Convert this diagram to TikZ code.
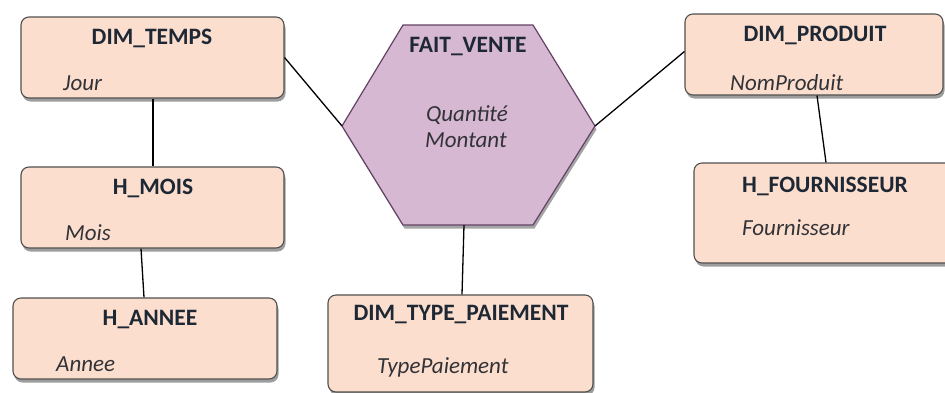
\documentclass[tikz,border=0pt]{standalone}
\usepackage{fontspec}
\setmainfont{Carlito}
\usetikzlibrary{shadows}
\definecolor{boxfill}{RGB}{251,222,206}
\definecolor{boxline}{RGB}{80,80,80}
\definecolor{hexfill}{RGB}{214,184,211}
\definecolor{hexline}{RGB}{100,66,100}
\definecolor{titlecol}{RGB}{30,40,52}
\definecolor{attrcol}{RGB}{50,50,55}
\tikzset{
  tablebox/.style={draw=boxline, line width=1.1pt, fill=boxfill, rounded corners=8pt,
    inner sep=0pt, drop shadow={shadow xshift=1.5pt, shadow yshift=-3.5pt, opacity=0.55, fill=black!70}},
  title/.style={font=\fontsize{23.5}{27}\selectfont\bfseries, text=titlecol, inner sep=0pt},
  attr/.style={font=\fontsize{23}{27}\selectfont\itshape, text=attrcol, inner sep=0pt, anchor=west},
  hexattr/.style={font=\fontsize{23}{27}\selectfont\itshape, text=attrcol, inner sep=0pt, anchor=base},
  link/.style={draw=black, line width=1.3pt}
}
\begin{document}
\begin{tikzpicture}[x=1pt,y=-1pt]
\useasboundingbox (0,0) rectangle (945,392);

% dimension and hierarchy tables
\node[tablebox, minimum width=263pt, minimum height=81pt] (temps) at (152.5,57.5) {};
\node[title] (tempsT) at (152,38) {DIM\_TEMPS};
\node[attr] (tempsA) at (63,83) {Jour};

\node[tablebox, minimum width=263pt, minimum height=81pt] (mois) at (152.5,207.5) {};
\node[title] (moisT) at (153,188) {H\_MOIS};
\node[attr] (moisA) at (65,233) {Mois};

\node[tablebox, minimum width=264pt, minimum height=81pt] (annee) at (145,338.5) {};
\node[title] (anneeT) at (150,320) {H\_ANNEE};
\node[attr] (anneeA) at (56,364) {Annee};

\node[tablebox, minimum width=265pt, minimum height=97pt] (paie) at (460.5,343.5) {};
\node[title] (paieT) at (461,315) {DIM\_TYPE\_PAIEMENT};
\node[attr] (paieA) at (377,367) {TypePaiement};

\node[tablebox, minimum width=258pt, minimum height=81pt] (produit) at (814,54.5) {};
\node[title] (produitT) at (815,35) {DIM\_PRODUIT};
\node[attr] (produitA) at (730,83) {NomProduit};

\node[tablebox, minimum width=262pt, minimum height=100pt] (fourn) at (825,213) {};
\node[title] (fournT) at (825,186) {H\_FOURNISSEUR};
\node[attr] (fournA) at (742,228) {Fournisseur};

% fact table hexagon
\path[draw=hexline, line width=1.2pt, fill=hexfill,
  drop shadow={shadow xshift=1.5pt, shadow yshift=-3.5pt, opacity=0.5, fill=black!70}]
  (403,25) -- (533,25) -- (595,126) -- (533,225) -- (403,225) -- (342,126) -- cycle;
\coordinate (hexW) at (342,126);
\coordinate (hexE) at (595,126);
\coordinate (hexS) at (464,225);
\node[title] (faitT) at (468,47) {FAIT\_VENTE};
\node[hexattr] (faitA) at (467,121) {Quantité};
\node[hexattr] (faitB) at (466,147) {Montant};

% links
\draw[link] (temps.east) -- (hexW);
\draw[link] (hexE) -- ([yshift=3pt]produit.west);
\draw[link] (hexS) -- ([xshift=1.5pt]paie.north);
\draw[link] ([xshift=0.5pt]temps.south) -- ([xshift=0.5pt]mois.north);
\draw[link] ([xshift=-11.5pt]mois.south) -- ([xshift=-1pt]annee.north);
\draw[link] ([xshift=3pt]produit.south) -- ([xshift=1pt]fourn.north);
\end{tikzpicture}
\end{document}
